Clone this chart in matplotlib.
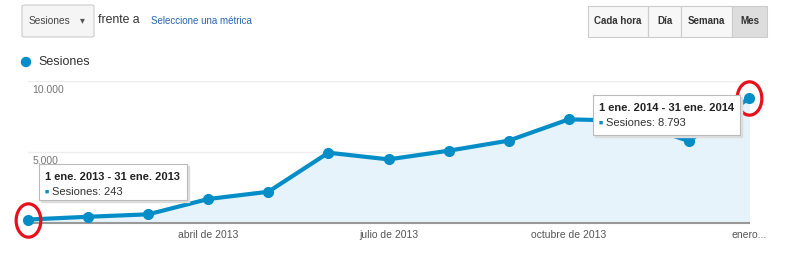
import matplotlib
matplotlib.use("Agg")
from matplotlib import pyplot as plt
from matplotlib.patches import FancyBboxPatch, Rectangle, Ellipse
from matplotlib.path import Path
import numpy as np

plt.rcParams['font.family'] = ['Liberation Sans', 'DejaVu Sans']

# monthly sessions, Jan 2013 - Jan 2014
months = ['ene 2013', 'feb 2013', 'mar 2013', 'abr 2013', 'may 2013', 'jun 2013',
          'jul 2013', 'ago 2013', 'sep 2013', 'oct 2013', 'nov 2013', 'dic 2013',
          'ene 2014']
sessions = [243, 440, 610, 1690, 2200, 4950, 4480, 5090, 5800, 7300, 7200, 5770, 8793]
tick_pos = [3, 6, 9, 12]
tick_labels = ['abril de 2013', 'julio de 2013', 'octubre de 2013', 'enero...']
y_ticks = [5000, 10000]
y_tick_labels = ['5.000', '10.000']
buttons = ['Cada hora', 'Día', 'Semana', 'Mes']

W, H = 796, 259
fig = plt.figure(figsize=(W / 100, H / 100), dpi=100)

def fx(px):
    return px / W

def fy(py):
    return 1 - py / H

blue = '#058DC7'

# main axes (pixel box 28..749 x 81..223)
ax = fig.add_axes([fx(28), fy(223), fx(749 - 28), (223 - 81) / H])
x = np.arange(len(months))
ax.fill_between(x, sessions, 0, color='#E6F3FA', zorder=1)
ax.plot(x, sessions, color=blue, lw=3, marker='o', ms=7, zorder=3, clip_on=False,
        solid_joinstyle='round')
ax.set_xlim(0, len(months) - 1)
ax.set_ylim(0, 10000)
for yt in y_ticks:
    ax.axhline(yt, color='#EEEEEE', lw=1, zorder=0)
for s in ['top', 'right', 'left']:
    ax.spines[s].set_visible(False)
ax.spines['bottom'].set_color('#999999')
ax.spines['bottom'].set_linewidth(1.5)
ax.set_yticks([])
ax.set_xticks(tick_pos)
ax.set_xticklabels(tick_labels, fontsize=7.5, color='#555555')
ax.tick_params(axis='x', length=0, pad=5)
for yt, lab in zip(y_ticks, y_tick_labels):
    ax.text(0.006, yt - 250, lab, transform=ax.get_yaxis_transform(),
            fontsize=7.5, color='#777777', ha='left', va='top')

# red highlight ellipses on first and last points
theta = np.linspace(0, 2 * np.pi, 60)
ell = Path(np.column_stack([np.cos(theta), 1.35 * np.sin(theta)]))
for i in [0, len(months) - 1]:
    ax.plot(x[i], sessions[i], marker=ell, ms=24, mfc='none', mec='#E8101A',
            mew=2.3, clip_on=False, zorder=5)

# tooltips
def tooltip(x0, y0, w, h, title, value):
    fig.patches.append(Rectangle((fx(x0 + 2), fy(y0 + h + 2)), fx(w), h / H,
                                 transform=fig.transFigure, color='#DDDDDD', zorder=6))
    fig.patches.append(Rectangle((fx(x0), fy(y0 + h)), fx(w), h / H,
                                 transform=fig.transFigure, facecolor='white',
                                 edgecolor='#BBBBBB', lw=0.8, zorder=7))
    fig.text(fx(x0 + 6), fy(y0 + 13), title, fontsize=8, fontweight='bold',
             color='#222222', va='center', zorder=8)
    fig.text(fx(x0 + 6), fy(y0 + 28), '\u25A0', fontsize=5, color=blue,
             va='center', zorder=8)
    fig.text(fx(x0 + 13), fy(y0 + 28), 'Sesiones: ' + value, fontsize=8,
             color='#333333', va='center', zorder=8)

tooltip(39, 164, 148, 36, '1 ene. 2013 - 31 ene. 2013', '243')
tooltip(593, 95, 147, 40, '1 ene. 2014 - 31 ene. 2014', '8.793')

# top controls
fig.patches.append(FancyBboxPatch((fx(22), fy(37)), fx(72), 32 / H,
                                  boxstyle='round,pad=0,rounding_size=0.004',
                                  transform=fig.transFigure, facecolor='#F5F5F5',
                                  edgecolor='#CCCCCC', lw=0.8))
fig.text(fx(29), fy(21), 'Sesiones', fontsize=7.3, color='#444444', va='center')
fig.text(fx(80), fy(20), '\u25BE', fontsize=7, color='#555555', va='center')
fig.text(fx(98), fy(20), 'frente a', fontsize=8.8, color='#333333', va='center')
fig.text(fx(151), fy(21), 'Seleccione una métrica', fontsize=7, color='#2A66B0',
         va='center')

edges = [588, 648, 681, 732, 767]
for i, b in enumerate(buttons):
    fc = '#DDDDDD' if b == 'Mes' else '#F7F7F7'
    fig.patches.append(Rectangle((fx(edges[i]), fy(37)), fx(edges[i + 1] - edges[i]),
                                 31 / H, transform=fig.transFigure, facecolor=fc,
                                 edgecolor='#CCCCCC', lw=0.8))
    fig.text(fx((edges[i] + edges[i + 1]) / 2), fy(21.5), b, fontsize=7,
             fontweight='bold', color='#333333', ha='center', va='center')

# legend
fig.patches.append(Ellipse((fx(26), fy(62)), fx(9), 9 / H, transform=fig.transFigure,
                           color=blue))
fig.text(fx(38), fy(62), 'Sesiones', fontsize=9, color='#333333', va='center')

fig.savefig('out.png', dpi=100)
